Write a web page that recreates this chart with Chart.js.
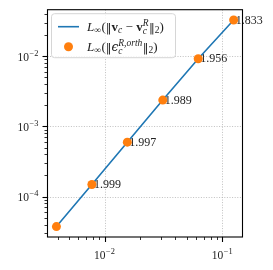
<!DOCTYPE html>
<html>
<head>
<meta charset="utf-8">
<script src="https://cdn.jsdelivr.net/npm/chart.js@4.4.1/dist/chart.umd.min.js"></script>
<style>
  html, body { margin: 0; padding: 0; background: #fff; }
  #wrap { width: 273px; height: 270px; }
</style>
</head>
<body>
<div id="wrap"><canvas id="chart" width="273" height="270"></canvas></div>
<script>
// mesh sizes and errors (log-log convergence plot)
var meshSizes = [0.00390625, 0.0078125, 0.015625, 0.03125, 0.0625, 0.125];
var velocityErrors = [3.74e-5, 1.49e-4, 5.96e-4, 2.37e-3, 9.18e-3, 3.27e-2];
var orthErrors = [3.74e-5, 1.49e-4, 5.96e-4, 2.37e-3, 9.18e-3, 3.27e-2];
var orderLabels = ['', '1.999', '1.997', '1.989', '1.956', '1.833'];
var xMajorTicks = [1e-2, 1e-1];
var yMajorTicks = [1e-4, 1e-3, 1e-2];
var xRange = [3.28e-3, 0.1486];
var yRange = [2.66e-5, 0.0459];

var serif = '"Liberation Serif", "DejaVu Serif", serif';
var blue = '#1f77b4';
var orange = '#ff7f0e';

function fnt(style, size, fam) {
    return (style || '') + ' ' + size + 'px ' + (fam || serif);
}

// draws a list of text pieces (with sub/superscripts) starting at x, baseline y
function drawMath(ctx, x, y, parts, dry) {
    parts.forEach(function (p) {
        if (p.stack) {
            var w = 0;
            p.stack.forEach(function (q) {
                ctx.font = fnt(q.st, q.s, q.f);
                if (!dry) ctx.fillText(q.t, x, y + (q.dy || 0));
                w = Math.max(w, ctx.measureText(q.t).width);
            });
            x += w + 0.5;
        } else {
            ctx.font = fnt(p.st, p.s, p.f);
            if (!dry) ctx.fillText(p.t, x, y + (p.dy || 0));
            x += ctx.measureText(p.t).width + (p.gap || 0);
        }
    });
    return x;
}

function powerLabel(v) {
    var e = Math.round(Math.log10(v));
    return [{ t: '10', s: 11.5, gap: 0.5 }, { t: (e < 0 ? '\u2212' : '') + Math.abs(e), s: 8.4, dy: -5 }];
}

var B = 13, S = 9.5;
var dv = '"DejaVu Serif", serif';
var legendItems = [
    {
        kind: 'line',
        parts: [
            { t: 'L', st: 'italic', s: B }, { t: '\u221e', s: S, dy: 2.5, gap: 0.5 },
            { t: '(', s: B }, { t: '\u2016', s: B - 1.5, f: dv }, { t: 'v', st: 'bold', s: B }, { t: 'c', st: 'italic', s: S, dy: 2.5 },
            { t: ' \u2212 ', s: B }, { t: 'v', st: 'bold', s: B },
            { stack: [{ t: 'c', st: 'italic', s: S, dy: 3 }, { t: 'R', st: 'italic', s: S, dy: -5 }] },
            { t: '\u2016', s: B - 1.5, f: dv }, { t: '2', s: S, dy: 2.5 }, { t: ')', s: B }
        ]
    },
    {
        kind: 'point',
        parts: [
            { t: 'L', st: 'italic', s: B }, { t: '\u221e', s: S, dy: 2.5, gap: 0.5 },
            { t: '(', s: B }, { t: '\u2016', s: B - 1.5, f: dv }, { t: '\u03f5', st: 'italic', s: B - 1, f: dv },
            { stack: [{ t: 'c', st: 'italic', s: S, dy: 3 }, { t: 'R,orth', st: 'italic', s: S, dy: -5 }] },
            { t: '\u2016', s: B - 1.5, f: dv }, { t: '2', s: S, dy: 2.5 }, { t: ')', s: B }
        ]
    }
];

function logSteps(min, max) {
    var out = [];
    for (var e = Math.floor(Math.log10(min)); e <= Math.ceil(Math.log10(max)); e++) {
        for (var m = 1; m <= 9; m++) {
            var v = m * Math.pow(10, e);
            if (v >= min && v <= max) out.push({ v: v, major: m === 1 });
        }
    }
    return out;
}

var axesPlugin = {
    id: 'axesPlugin',
    beforeDatasetsDraw: function (chart) {
        var ctx = chart.ctx, a = chart.chartArea;
        var xs = chart.scales.x, ys = chart.scales.y;
        ctx.save();
        // dotted grid at major ticks
        ctx.strokeStyle = '#b0b0b0';
        ctx.lineWidth = 0.8;
        ctx.setLineDash([1, 1.6]);
        xMajorTicks.forEach(function (v) {
            var px = Math.round(xs.getPixelForValue(v)) + 0.5;
            ctx.beginPath(); ctx.moveTo(px, a.top); ctx.lineTo(px, a.bottom); ctx.stroke();
        });
        yMajorTicks.forEach(function (v) {
            var py = Math.round(ys.getPixelForValue(v)) + 0.5;
            ctx.beginPath(); ctx.moveTo(a.left, py); ctx.lineTo(a.right, py); ctx.stroke();
        });
        ctx.setLineDash([]);
        // convergence order labels next to the points
        var meta = chart.getDatasetMeta(1);
        ctx.fillStyle = '#222';
        ctx.font = fnt('', 12);
        ctx.textBaseline = 'middle';
        meta.data.forEach(function (pt, i) {
            if (orderLabels[i]) ctx.fillText(orderLabels[i], pt.x + 2, pt.y + 0.5);
        });
        ctx.restore();
    },
    afterDraw: function (chart) {
        var ctx = chart.ctx, a = chart.chartArea;
        var xs = chart.scales.x, ys = chart.scales.y;
        ctx.save();
        // tick marks
        ctx.strokeStyle = '#000';
        logSteps(xRange[0], xRange[1]).forEach(function (t) {
            var px = Math.round(xs.getPixelForValue(t.v)) + 0.5;
            ctx.lineWidth = t.major ? 1.1 : 0.8;
            ctx.beginPath(); ctx.moveTo(px, a.bottom); ctx.lineTo(px, a.bottom + (t.major ? 5 : 3)); ctx.stroke();
        });
        logSteps(yRange[0], yRange[1]).forEach(function (t) {
            var py = Math.round(ys.getPixelForValue(t.v)) + 0.5;
            ctx.lineWidth = t.major ? 1.1 : 0.8;
            ctx.beginPath(); ctx.moveTo(a.left, py); ctx.lineTo(a.left - (t.major ? 5 : 3), py); ctx.stroke();
        });
        // spines
        ctx.lineWidth = 1.1;
        ctx.strokeRect(a.left, a.top, a.right - a.left, a.bottom - a.top);
        // tick labels
        ctx.fillStyle = '#222';
        ctx.textBaseline = 'alphabetic';
        xMajorTicks.forEach(function (v) {
            var parts = powerLabel(v);
            var w = drawMath(ctx, 0, 0, parts, true);
            drawMath(ctx, xs.getPixelForValue(v) - w / 2, a.bottom + 22, parts);
        });
        yMajorTicks.forEach(function (v) {
            var parts = powerLabel(v);
            var w = drawMath(ctx, 0, 0, parts, true);
            drawMath(ctx, a.left - 9 - w, ys.getPixelForValue(v) + 4.5, parts);
        });
        // legend
        var lx = a.left + 3.5, ly = a.top + 3.5, lw = 124, lh = 44;
        ctx.beginPath();
        ctx.roundRect(lx + 0.5, ly + 0.5, lw, lh, 3);
        ctx.fillStyle = 'rgba(255,255,255,0.8)';
        ctx.fill();
        ctx.strokeStyle = '#d6d6d6';
        ctx.lineWidth = 1;
        ctx.stroke();
        legendItems.forEach(function (item, i) {
            var cy = ly + 13.5 + i * 20;
            if (item.kind === 'line') {
                ctx.strokeStyle = blue;
                ctx.lineWidth = 1.6;
                ctx.beginPath(); ctx.moveTo(lx + 7, cy); ctx.lineTo(lx + 28, cy); ctx.stroke();
            } else {
                ctx.fillStyle = orange;
                ctx.beginPath(); ctx.arc(lx + 17.5, cy, 4.5, 0, Math.PI * 2); ctx.fill();
            }
            ctx.fillStyle = '#222';
            drawMath(ctx, lx + 36, cy + 4, item.parts);
        });
        ctx.restore();
    }
};

new Chart(document.getElementById('chart'), {
    type: 'line',
    data: {
        datasets: [
            {
                label: 'velocity error',
                data: meshSizes.map(function (h, i) { return { x: h, y: velocityErrors[i] }; }),
                borderColor: blue,
                borderWidth: 1.6,
                pointRadius: 0,
                fill: false,
                tension: 0,
                order: 2
            },
            {
                label: 'orthogonal error',
                data: meshSizes.map(function (h, i) { return { x: h, y: orthErrors[i] }; }),
                showLine: false,
                pointRadius: 4.5,
                pointBackgroundColor: orange,
                pointBorderWidth: 0,
                pointBorderColor: orange,
                order: 1
            }
        ]
    },
    options: {
        responsive: false,
        animation: false,
        devicePixelRatio: 1,
        layout: { padding: { left: 47.5, right: 30.5, top: 9.7, bottom: 33 } },
        plugins: { legend: { display: false }, tooltip: { enabled: false } },
        scales: {
            x: { type: 'logarithmic', min: xRange[0], max: xRange[1], display: false },
            y: { type: 'logarithmic', min: yRange[0], max: yRange[1], display: false }
        }
    },
    plugins: [axesPlugin]
});
</script>
</body>
</html>
